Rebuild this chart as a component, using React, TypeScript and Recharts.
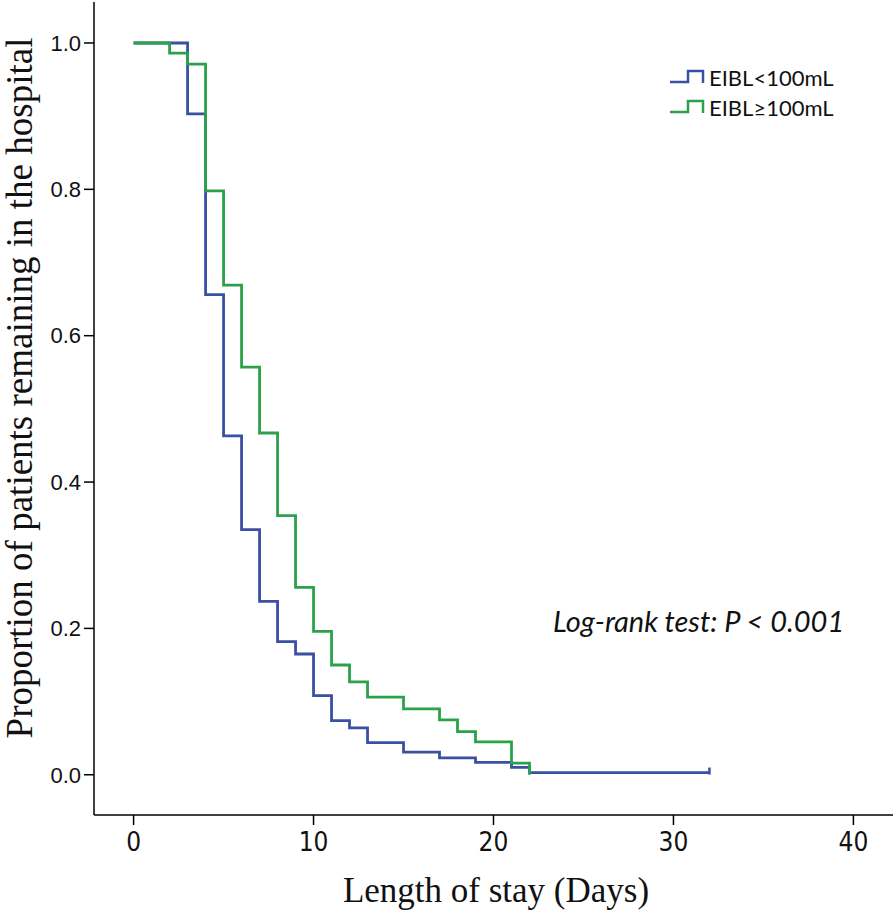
import { LineChart, Line, XAxis, YAxis, Legend } from "recharts";

// Kaplan-Meier estimates
const lowDays = [0, 3, 4, 5, 6, 7, 8, 9, 10, 11, 12, 13, 15, 17, 19, 21, 22, 32];
const lowProp = [1.0, 0.903, 0.656, 0.463, 0.335, 0.237, 0.182, 0.165, 0.108, 0.074, 0.064, 0.044, 0.031, 0.023, 0.017, 0.01, 0.003, 0.003];

const highDays = [0, 2, 3, 4, 5, 6, 7, 8, 9, 10, 11, 12, 13, 15, 17, 18, 19, 21, 22];
const highProp = [1.0, 0.986, 0.971, 0.798, 0.669, 0.557, 0.467, 0.354, 0.256, 0.196, 0.15, 0.127, 0.106, 0.09, 0.075, 0.059, 0.045, 0.016, 0.0];

const xTicks = [0, 10, 20, 30, 40];
const yTicks = [0, 0.2, 0.4, 0.6, 0.8, 1.0];

const seriesNames = ["EIBL<100mL", "EIBL≥100mL"];
const BLUE = "#3a50a2";
const GREEN = "#2ba24a";

const lowData = lowDays.map((d, i) => ({ x: d, y: lowProp[i] }));
const highData = highDays.map((d, i) => ({ x: d, y: highProp[i] }));

const xDomain = [-2.2, 42.2];
const yDomain = [-0.055, 1.056];

// censor tick on the last point only
const censorDot = (last: number, color: string) => (props: any) => {
  const { cx, cy, index } = props;
  if (index !== last) return <g key={index} />;
  return <line key={index} x1={cx} x2={cx} y1={cy - 5} y2={cy + 2} stroke={color} strokeWidth={2.5} />;
};

const StepIcon = ({ color }: { color: string }) => (
  <svg width={36} height={16} style={{ display: "block" }}>
    <polyline points="1,13 19,13 19,2 34,2 34,14" fill="none" stroke={color} strokeWidth={2.5} />
  </svg>
);

const renderLegend = () => (
  <div style={{ fontFamily: "Lato, 'Open Sans', sans-serif", fontSize: 22, color: "#111" }}>
    {[BLUE, GREEN].map((c, i) => (
      <div key={i} style={{ display: "flex", alignItems: "center", height: 30 }}>
        <StepIcon color={c} />
        <span style={{ marginLeft: 4 }}>{seriesNames[i]}</span>
      </div>
    ))}
  </div>
);

export default function App() {
  return (
    <div style={{ position: "relative", width: 896, height: 913, background: "#fff" }}>
      <style>{"body{margin:0;}"}</style>
      <LineChart width={896} height={913} margin={{ top: 2, right: 3, left: 0, bottom: 0 }}>
        <XAxis
          type="number"
          dataKey="x"
          domain={xDomain}
          ticks={xTicks}
          allowDataOverflow
          height={98}
          stroke="#000"
          strokeWidth={1.5}
          tickSize={10}
          tickMargin={8}
          tick={{ fill: "#111", fontSize: 26, fontFamily: "'Liberation Sans Narrow', 'DejaVu Sans Condensed', sans-serif" }}
          label={{
            value: "Length of stay (Days)",
            content: () => (
              <text x={496} y={902} textAnchor="middle" fontFamily="'Liberation Serif', serif" fontSize={35} fill="#111">
                Length of stay (Days)
              </text>
            ),
          }}
        />
        <XAxis xAxisId="top" orientation="top" type="number" domain={xDomain} height={0} tick={false} tickLine={false} stroke="#000" strokeWidth={1.5} />
        <YAxis
          type="number"
          domain={yDomain}
          ticks={yTicks}
          allowDataOverflow
          width={94}
          stroke="#000"
          strokeWidth={1.5}
          tickSize={10}
          tickMargin={3}
          tickFormatter={(v: number) => v.toFixed(1)}
          tick={{ fill: "#111", fontSize: 22, fontFamily: "'Liberation Sans', Arial, sans-serif" }}
          label={{
            value: "Proportion of patients remaining in the hospital",
            content: () => (
              <text
                x={32}
                y={388}
                textAnchor="middle"
                transform="rotate(-90, 32, 388)"
                fontFamily="'Liberation Serif', serif"
                fontSize={37}
                fill="#111"
              >
                Proportion of patients remaining in the hospital
              </text>
            ),
          }}
        />
        <YAxis yAxisId="right" orientation="right" type="number" domain={yDomain} width={0} tick={false} tickLine={false} stroke="#000" strokeWidth={1.5} />
        <Legend
          layout="vertical"
          verticalAlign="middle"
          align="center"
          content={renderLegend}
          wrapperStyle={{ position: "absolute", top: 62, left: 669, width: "auto" }}
        />
        <Line
          data={lowData}
          dataKey="y"
          type="stepAfter"
          stroke={BLUE}
          strokeWidth={2.8}
          dot={censorDot(lowData.length - 1, BLUE)}
          activeDot={false}
          isAnimationActive={false}
          name={seriesNames[0]}
        />
        <Line
          data={highData}
          dataKey="y"
          type="stepAfter"
          stroke={GREEN}
          strokeWidth={2.8}
          dot={false}
          activeDot={false}
          isAnimationActive={false}
          name={seriesNames[1]}
        />
      </LineChart>
      <div
        style={{
          position: "absolute",
          left: 553,
          top: 603,
          fontFamily: "Lato, 'Open Sans', sans-serif",
          fontStyle: "italic",
          fontSize: 29,
          color: "#111",
          whiteSpace: "nowrap",
        }}
      >
        Log-rank test: P &lt; 0.001
      </div>
    </div>
  );
}
